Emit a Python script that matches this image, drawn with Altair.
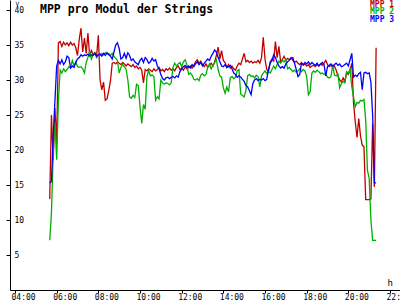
import altair as alt
import pandas as pd

series_names = ["MPP 1", "MPP 2", "MPP 3"]
series_colors = ["#c00000", "#00b000", "#0000ff"]

start_time = "2024-06-01 05:40"
step = "5min"

mpp1 = [
    13, 25, 18.5, 26, 21, 35.3, 35.5, 34.8, 35.4, 35.0,
    35.3, 34.9, 35.4, 35.0, 35.2, 34.6, 33.5, 35.8, 37.4, 34.0,
    36.0, 33.8, 36.7, 33.5, 34.2, 33.6, 33.9, 33.4, 36.4, 30.0,
    28.6, 29.7, 27.1, 27.3, 28.5, 29.9, 32.4, 32.5, 32.3, 32.6,
    32.4, 32.2, 32.5, 32.3, 32.0, 32.3, 32.1, 31.9, 32.2, 31.8,
    32.0, 31.6, 31.8, 31.4, 29.6, 31.5, 31.3, 31.6, 31.4, 31.2,
    31.6, 31.3, 31.5, 31.8, 31.3, 31.5, 31.2, 31.6, 31.4, 31.7,
    31.4, 31.6, 31.3, 31.8, 32.0, 31.5, 31.7, 31.4, 31.9, 31.6,
    31.8, 32.0, 31.7, 32.1, 32.6, 32.9, 32.4, 32.7, 32.2, 31.9,
    32.3, 31.8, 32.1, 32.4, 32.0, 32.6, 33.5, 34.7, 33.0, 34.2,
    32.8, 32.5, 31.8, 32.2, 31.7, 32.0, 31.6, 31.4, 32.0, 32.4,
    32.2, 33.0, 33.8, 32.6, 32.8, 32.5, 32.7, 32.4, 32.6, 32.5,
    32.8, 32.4, 33.2, 36.1, 33.0, 31.5, 31.2, 32.6, 33.0, 32.7,
    35.5, 33.2, 34.8, 32.6, 32.9, 33.4, 32.8, 33.1, 32.9, 33.2,
    32.8, 32.5, 32.7, 32.4, 32.2, 32.5, 32.1, 32.3, 32.0, 32.2,
    31.8, 32.0, 32.1, 31.9, 32.2, 32.0, 32.3, 32.1, 32.4, 32.8,
    32.2, 31.9, 32.1, 31.8, 32.0, 31.4, 30.6, 30.0, 29.7, 30.3,
    29.8, 31.0, 30.8, 31.5, 32.4, 26.7, 24.0, 21.8, 24.5, 22.0,
    20.7, 20.5, 12.9, 12.9, 12.9, 13.0, 23.8, 14.7, 34.6,
]

mpp2 = [
    7.1, 11.0, 19.5, 24.0, 18.6, 27.0, 31.4, 31.0, 31.6, 31.2,
    31.5, 31.9, 31.7, 32.8, 32.0, 32.6, 31.9, 31.8, 31.9, 31.6,
    31.0, 32.5, 33.2, 34.1, 33.0, 33.6, 33.9, 33.2, 33.6, 33.5,
    33.8, 33.6, 33.9, 33.7, 33.8, 33.5, 33.8, 33.4, 33.1, 32.8,
    31.0, 31.8, 32.2, 31.9, 31.5, 30.0, 27.6, 27.4, 27.8, 27.5,
    29.4, 29.2, 26.2, 23.8, 26.5, 25.8, 30.5, 31.4, 30.6, 30.7,
    30.5, 27.1, 27.6, 27.3, 30.0, 29.6, 29.4, 29.6, 29.5, 29.3,
    29.6, 31.8, 32.4, 32.0, 32.3, 32.5, 31.9, 32.6, 32.9, 32.2,
    30.8, 31.0, 30.7, 30.1, 30.0, 30.2, 29.9, 30.7, 30.9, 30.6,
    30.8, 31.8, 32.3, 31.6, 32.1, 32.5, 32.9, 31.5, 30.6, 30.4,
    28.9, 28.1, 29.0, 28.3, 30.3, 30.5, 30.2, 30.4, 31.3, 31.5,
    28.0, 27.8, 27.6, 28.5, 30.6, 30.8, 30.5, 30.6, 30.3, 30.7,
    30.5, 29.0, 30.6, 31.0, 31.3, 30.9, 31.2, 31.0, 31.5, 32.0,
    31.6, 32.2, 32.7, 32.4, 32.8, 32.6, 32.9, 31.6, 31.8, 31.5,
    31.2, 31.4, 31.1, 31.3, 31.6, 31.2, 31.5, 31.3, 30.5, 27.9,
    28.3, 31.0, 31.3, 31.1, 31.4, 31.2, 30.9, 31.0, 30.8, 30.9,
    30.4, 30.3, 30.5, 32.1, 30.7, 30.6, 30.8, 28.9, 29.5, 29.8,
    29.6, 31.2, 31.0, 31.5, 29.0, 27.6, 26.2, 26.8, 26.7, 27.1,
    27.0, 27.2, 24.3, 17.1, 16.0, 10.0, 7.1, 7.1, 7.1,
]

mpp3 = [
    15.3, 15.5, 22.0, 27.0, 32.0, 32.8, 32.3, 32.9, 32.2, 32.6,
    33.4, 33.2, 31.7, 32.0, 31.8, 32.5, 33.0, 33.2, 33.6, 33.4,
    33.6, 33.5, 33.7, 33.4, 33.6, 33.5, 33.8, 33.4, 33.6, 33.7,
    33.4, 33.8, 33.5, 33.9, 33.6, 33.4, 33.0, 34.0, 35.0, 35.3,
    34.5, 33.0, 33.2, 33.8, 33.1, 33.9, 33.5, 32.8, 33.0, 32.6,
    32.4, 32.2, 32.8, 33.1, 32.5, 33.2, 32.9, 32.4, 32.6, 33.1,
    32.7, 32.9, 32.0, 31.6, 30.8, 30.2, 30.0, 30.3, 30.4, 30.2,
    30.4, 30.5, 30.3, 30.6, 30.4, 31.2, 31.6, 31.9, 32.1, 31.8,
    32.0, 31.7, 32.2, 31.9, 32.3, 32.6, 32.2, 32.5, 32.0, 32.4,
    32.7, 33.0, 32.8, 33.4, 33.8, 34.3, 34.0, 33.2, 32.6, 32.0,
    31.9, 32.2, 31.8, 31.9, 32.1, 31.6, 31.0, 30.8, 30.4, 30.6,
    30.4, 30.1, 29.8, 29.2, 29.0, 28.5, 27.9, 29.5, 30.0, 30.2,
    29.9, 30.1, 30.0, 30.2, 29.9, 30.1, 31.5, 32.4, 32.8, 33.6,
    33.2, 32.5, 32.0, 31.7, 31.9, 31.7, 32.3, 32.6, 32.8, 33.1,
    33.2, 32.4, 31.5, 30.5, 30.8, 32.4, 32.2, 32.5, 32.3, 32.6,
    32.2, 32.5, 32.3, 32.1, 32.4, 32.0, 32.3, 32.5, 32.2, 30.6,
    31.9, 32.1, 32.3, 32.0, 32.2, 32.4, 32.1, 32.3, 31.9, 32.0,
    32.2, 32.4, 32.0, 32.9, 33.8, 30.4, 30.7, 30.5, 30.9, 31.1,
    28.6, 31.0, 31.1, 30.9, 31.0, 29.7, 25.0, 15.3, 15.3,
]

y_ticks = [5, 10, 15, 20, 25, 30, 35, 40]
x_tick_hours = [4, 6, 8, 10, 12, 14, 16, 18, 20, 22]

rows = []
for name, vals in zip(series_names, [mpp1, mpp2, mpp3]):
    times = pd.date_range(start_time, periods=len(vals), freq=step)
    for t, v in zip(times, vals):
        rows.append({"time": t, "value": v, "series": name})
df = pd.DataFrame(rows)
leg_df = pd.DataFrame({"series": series_names})

MONO = "DejaVu Sans Mono"
color_scale = alt.Scale(domain=series_names, range=series_colors)


def dt(h, m=0, s=0):
    return alt.DateTime(year=2024, month=6, date=1, hours=h, minutes=m, seconds=s)


lines = alt.Chart(df).mark_line(strokeWidth=1.3, interpolate="linear").encode(
    x=alt.X(
        "time:T",
        scale=alt.Scale(domain=[dt(3, 45, 36), dt(22, 28, 48)], nice=False),
        axis=alt.Axis(
            values=[dt(h) for h in x_tick_hours],
            format="%H:%M",
            title="h",
            titleX=377, titleY=-8, titleAlign="left", titleBaseline="middle",
            titleFont=MONO, titleFontSize=9, titleFontWeight="normal",
            labelFont=MONO, labelFontSize=8, labelColor="black",
            labelAlign="left", labelOffset=-4, labelBaseline="top",
            labelPadding=0, labelFlush=False, labelOverlap=False,
            tickSize=3, tickColor="black", domainColor="black",
            grid=False,
        ),
    ),
    y=alt.Y(
        "value:Q",
        scale=alt.Scale(domain=[0, 41.43], nice=False, zero=False),
        axis=alt.Axis(
            values=y_ticks,
            title="V",
            titleAngle=0, titleX=5, titleY=0, titleAlign="left",
            titleBaseline="top",
            titleFont=MONO, titleFontSize=6, titleFontWeight="normal",
            labelFont=MONO, labelFontSize=8, labelColor="black",
            labelAlign="left", labelBaseline="middle", labelPadding=-8,
            labelOverlap=False, labelFlush=False,
            tickSize=4, tickColor="black", domainColor="black",
            grid=False,
        ),
    ),
    color=alt.Color("series:N", scale=color_scale, legend=None),
    detail="series:N",
)

legend_text = alt.Chart(leg_df).mark_text(
    align="left", baseline="middle", font=MONO, fontSize=8, fontWeight="bold"
).encode(
    x=alt.value(360),
    y=alt.Y("series:N", axis=None,
            scale=alt.Scale(type="point", range=[4.5, 19.5], padding=0)),
    text="series:N",
    color=alt.Color("series:N", scale=color_scale, legend=None),
)

chart = alt.layer(lines, legend_text).resolve_scale(y="independent").properties(
    width=390,
    height=290,
    autosize=alt.AutoSizeParams(type="none"),
    padding={"left": 10, "top": 0, "right": 0, "bottom": 10},
    background="white",
    title=alt.TitleParams(
        "MPP pro Modul der Strings",
        anchor="start", frame="group", offset=0, dx=30, dy=24,
        baseline="alphabetic",
        font=MONO, fontSize=11.5, fontWeight="bold", color="black",
    ),
).configure_view(stroke=None)

chart.save("out.html", embed_options={"renderer": "svg", "actions": False})
